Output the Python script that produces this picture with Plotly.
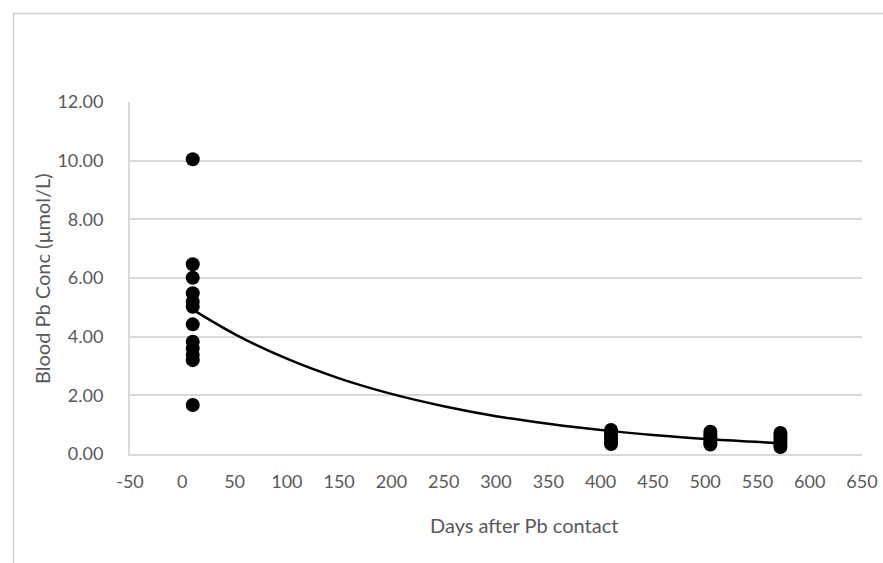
import plotly.graph_objects as go

# Measured blood Pb concentrations (µmol/L) by days after Pb contact
days_d10 = [10] * 12
conc_d10 = [10.05, 6.47, 6.01, 5.48, 5.19, 5.02, 4.42, 3.83, 3.60, 3.38, 3.20, 1.67]
days_d410 = [410] * 6
conc_d410 = [0.82, 0.72, 0.62, 0.52, 0.42, 0.34]
days_d505 = [505] * 6
conc_d505 = [0.76, 0.66, 0.56, 0.46, 0.38, 0.32]
days_d572 = [572] * 6
conc_d572 = [0.72, 0.62, 0.52, 0.42, 0.32, 0.24]

# Exponential trendline, values
trend_days = [10, 50, 100, 150, 200, 250, 300, 350, 410, 450, 505, 572]
trend_conc = [4.92, 4.09, 3.25, 2.58, 2.05, 1.63, 1.29, 1.03, 0.78, 0.65, 0.50, 0.37]

x_ticks = list(range(-50, 651, 50))
x_tick_labels = [str(v) for v in x_ticks]
y_ticks = [0, 2, 4, 6, 8, 10, 12]

days = days_d10 + days_d410 + days_d505 + days_d572
conc = conc_d10 + conc_d410 + conc_d505 + conc_d572

FONT = "Lato"
GREY = "#595959"
GRID = "#d9d9d9"

fig = go.Figure()
fig.add_trace(go.Scatter(
    x=trend_days, y=trend_conc, mode="lines", line=dict(color="black", width=2.5, shape="spline"),
    hoverinfo="skip", showlegend=False))
fig.add_trace(go.Scatter(
    x=days, y=conc, mode="markers", marker=dict(color="black", size=14),
    showlegend=False))

# body margin is removed in the page, so the figure fills the window exactly
W, H = 883, 563
L, T = 130, 102
R = W - 862
B = H - 454
pw, ph = W - L - R, H - T - B

def px_to_paper_x(px):
    return (px - L) / pw

def py_to_paper_y(py):
    return (H - B - py) / ph

fig.update_layout(
    width=W, height=H,
    margin=dict(l=L, r=R, t=T, b=B, autoexpand=False),
    paper_bgcolor="white", plot_bgcolor="white",
    font=dict(family=FONT, color=GREY, size=18),
    xaxis=dict(range=[-50, 650], tickvals=x_ticks, ticktext=x_tick_labels,
               showgrid=False, zeroline=False, automargin=False,
               showline=True, linecolor=GRID, linewidth=2, ticks="",
               tickfont=dict(size=18, color=GREY), ticklabelstandoff=10,
               ticklabeloverflow="allow"),
    yaxis=dict(range=[0, 12], tickvals=y_ticks, tickformat=".2f", showgrid=True,
               gridcolor=GRID, gridwidth=1.5, zeroline=False, showline=True,
               linecolor=GRID, linewidth=2, ticks="", automargin=False,
               tickfont=dict(size=18, color=GREY), ticklabelstandoff=21),
    shapes=[dict(type="rect", xref="paper", yref="paper",
                 x0=px_to_paper_x(13.5), x1=px_to_paper_x(920),
                 y0=py_to_paper_y(600), y1=py_to_paper_y(13.5),
                 line=dict(color="#d0d0d0", width=1.5), fillcolor="rgba(0,0,0,0)",
                 layer="below")],
    annotations=[
        dict(text="Days after Pb contact", xref="paper", yref="paper",
             x=px_to_paper_x(524), y=py_to_paper_y(525), xanchor="center", yanchor="middle",
             showarrow=False, font=dict(size=20, color=GREY, family=FONT)),
        dict(text="Blood Pb Conc (µmol/L)", xref="paper", yref="paper", textangle=-90,
             x=px_to_paper_x(42), y=py_to_paper_y(279), xanchor="center", yanchor="middle",
             showarrow=False, font=dict(size=20, color=GREY, family=FONT)),
    ],
)

fig.write_html("out.html",
               config={"displayModeBar": False},
               post_script="document.body.style.margin='0';document.body.style.overflow='hidden';")
